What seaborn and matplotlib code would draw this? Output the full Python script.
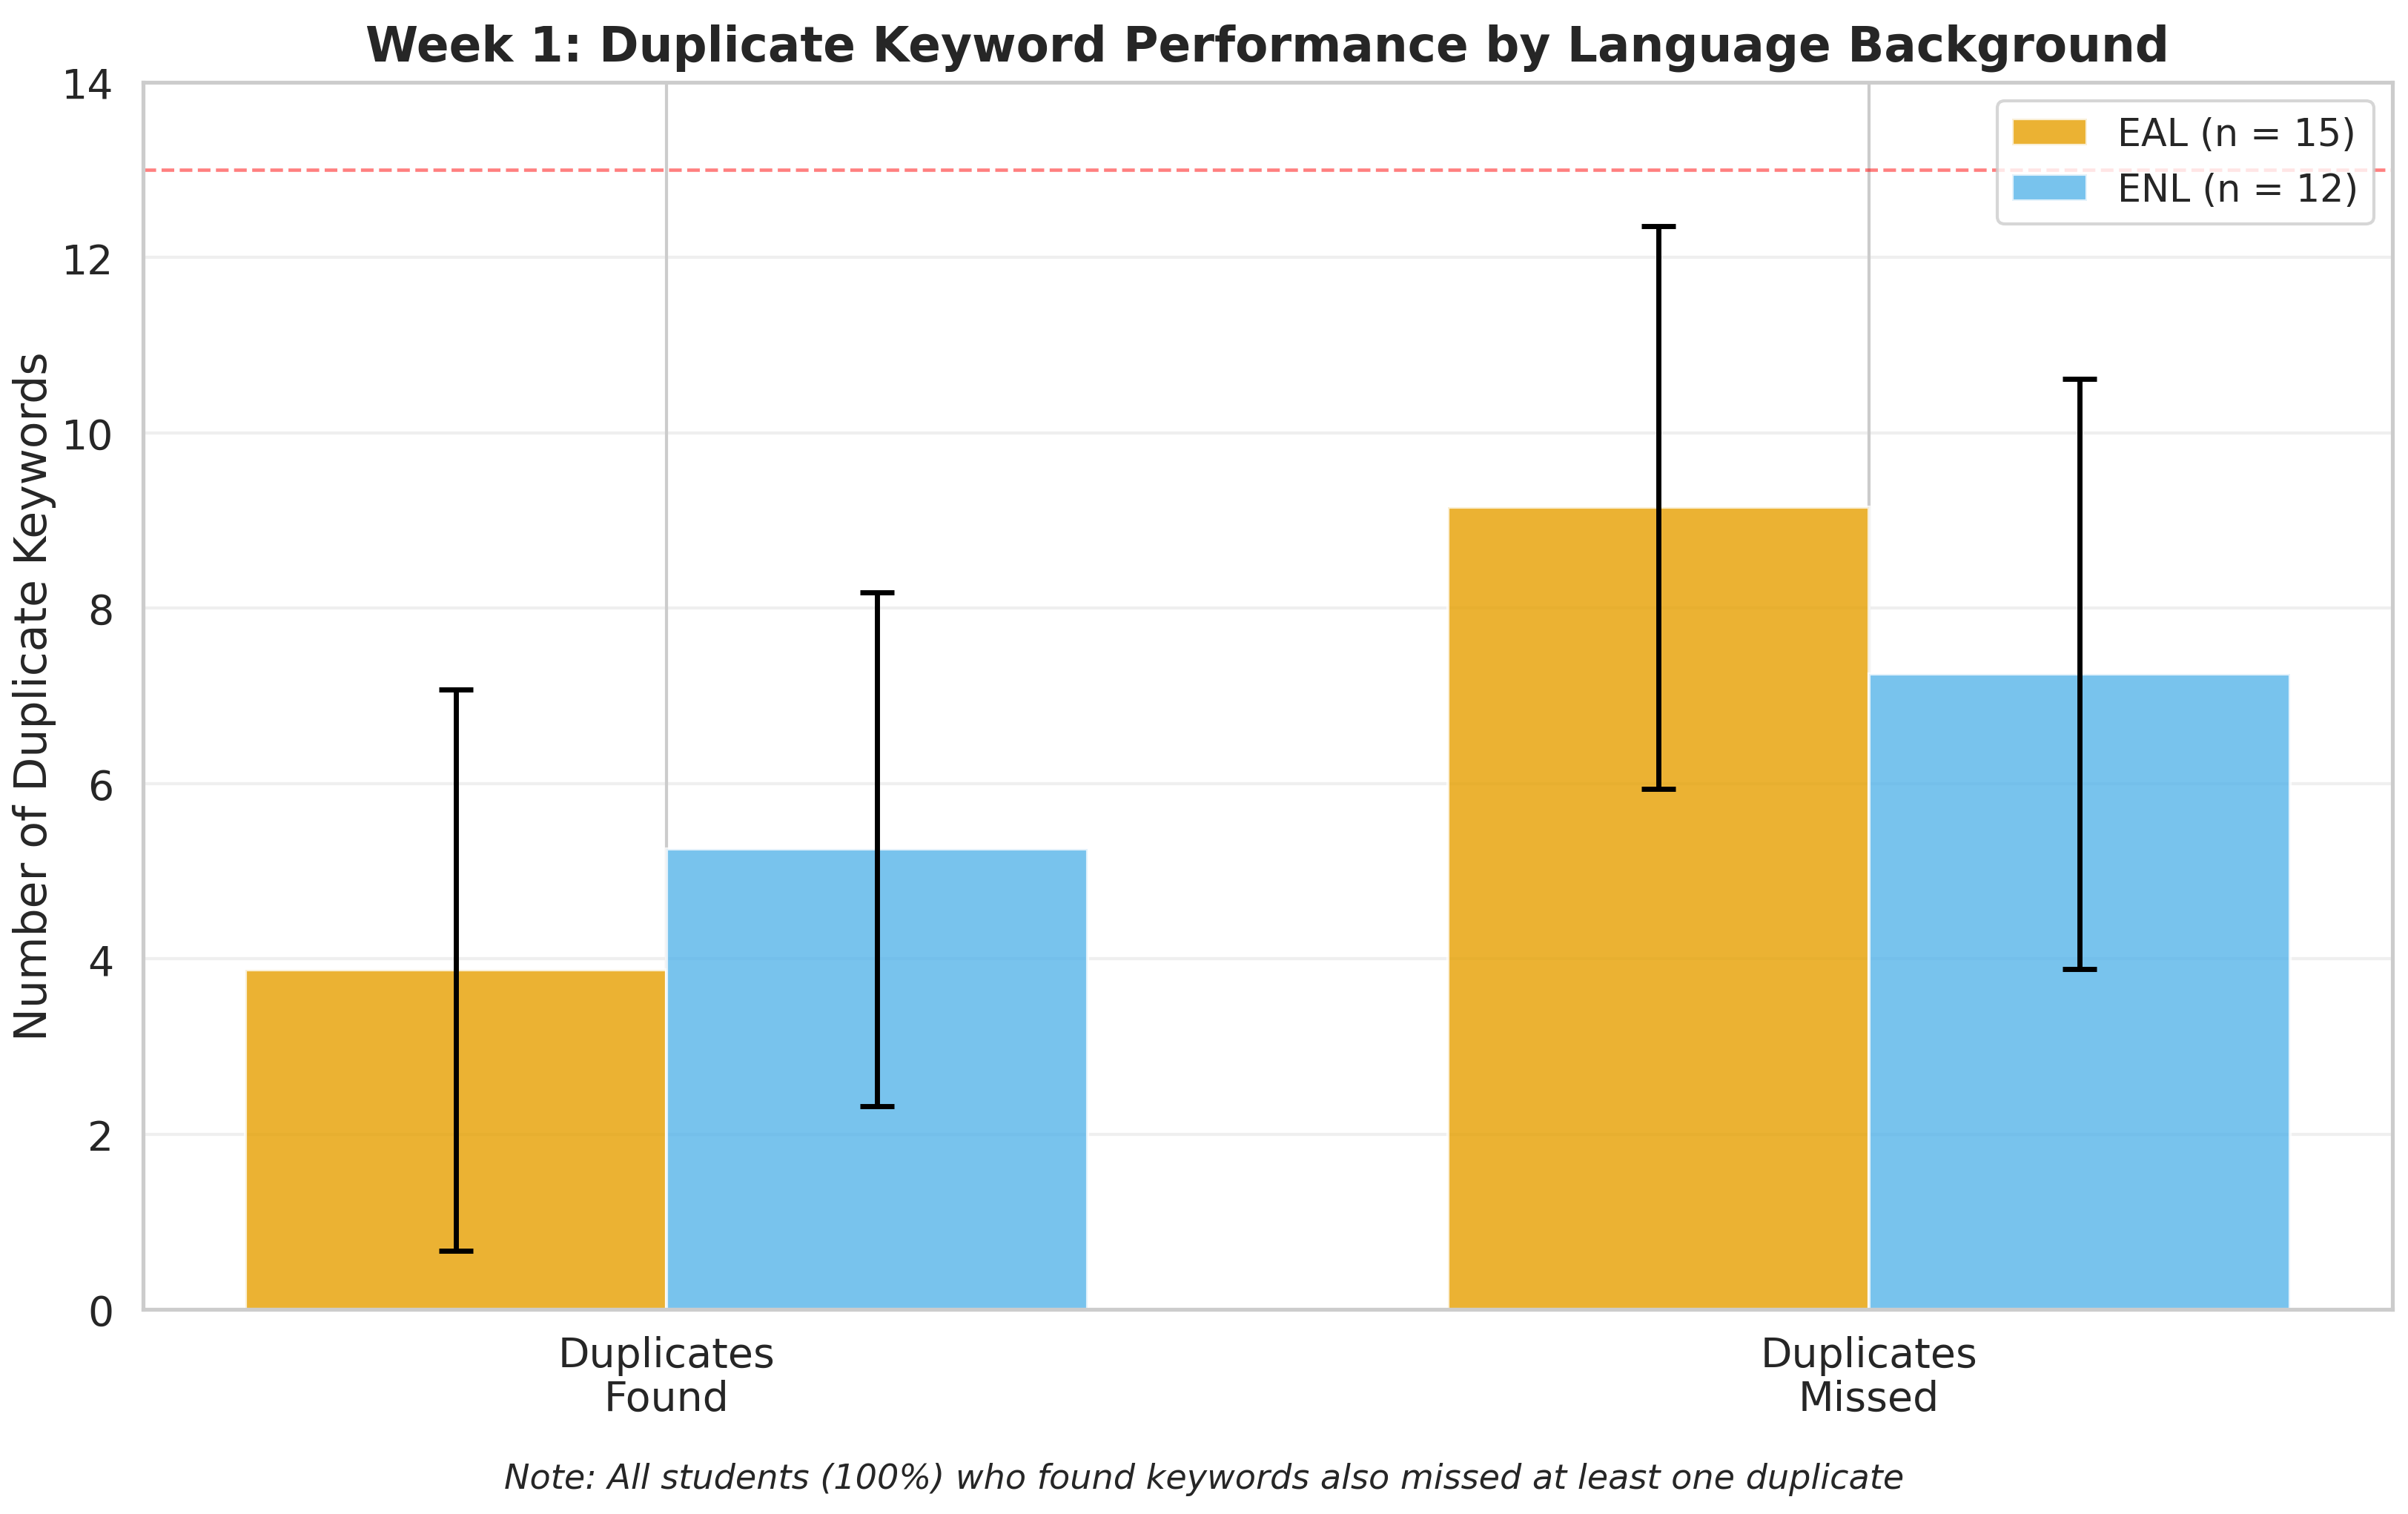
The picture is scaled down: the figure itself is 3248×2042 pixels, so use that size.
import numpy as np
import pandas as pd
import matplotlib
matplotlib.use("Agg")
import matplotlib.pyplot as plt
import seaborn as sns

# ---- data ----
metrics = ["Duplicates\nFound", "Duplicates\nMissed"]
groups = ["EAL (n = 15)", "ENL (n = 12)"]
eal_means = [3.87, 9.15]
eal_sds = [3.20, 3.21]
enl_means = [5.25, 7.25]
enl_sds = [2.93, 3.37]
total_keywords = 13
colors = ["#E69F00", "#56B4E9"]
title = "Week 1: Duplicate Keyword Performance by Language Background"
ylabel = "Number of Duplicate Keywords"
note = "Note: All students (100%) who found keywords also missed at least one duplicate"

df = pd.DataFrame({
    "metric": metrics + metrics,
    "group": [groups[0]] * 2 + [groups[1]] * 2,
    "mean": eal_means + enl_means,
    "sd": eal_sds + enl_sds,
})

sns.set_theme(style="whitegrid", context="notebook")
plt.rcParams["font.family"] = ["DejaVu Sans"]

S = 1.107
fig, ax = plt.subplots(figsize=(3248 / 300, 2043 / 300), dpi=300)
fig.subplots_adjust(left=0.0594, right=0.9935, top=0.9452, bottom=0.1351)

sns.barplot(data=df, x="metric", y="mean", hue="group", order=metrics,
            hue_order=groups, palette=colors, alpha=0.8, width=0.7,
            saturation=1, errorbar=None, ax=ax)

# error bars placed at each bar's center
for container, grp in zip(ax.containers, groups):
    sub = df[df["group"] == grp].set_index("metric").loc[metrics]
    xs = [b.get_x() + b.get_width() / 2 for b in container]
    ax.errorbar(xs, sub["mean"].values, yerr=sub["sd"].values, fmt="none",
                ecolor="black", elinewidth=1.5 * S, capsize=5 * S,
                capthick=1.5 * S, zorder=5)

ax.axhline(total_keywords, color="red", linestyle="--", alpha=0.5, linewidth=1.0 * S)

ax.set_ylim(0, 14)
ax.set_yticks(np.arange(0, 15, 2))
ax.set_xlabel("")
ax.set_ylabel(ylabel, fontsize=13 * S, labelpad=1.6)
ax.set_title(title, fontsize=14 * S, fontweight="bold", pad=7)
ax.tick_params(axis="both", labelsize=12 * S)
ax.tick_params(axis="x", pad=2.5)
for lab in ax.get_xticklabels():
    lab.set_linespacing(1.1)
ax.xaxis.grid(True)
ax.yaxis.grid(True, alpha=0.3)
ax.set_axisbelow(True)

handles, labels = ax.get_legend_handles_labels()
ax.legend(handles, labels, loc="upper right", fontsize=11 * S)

fig.text(0.5, 0.017, note, ha="center", fontsize=10 * S, style="italic")

fig.savefig("out.png", dpi=300)
